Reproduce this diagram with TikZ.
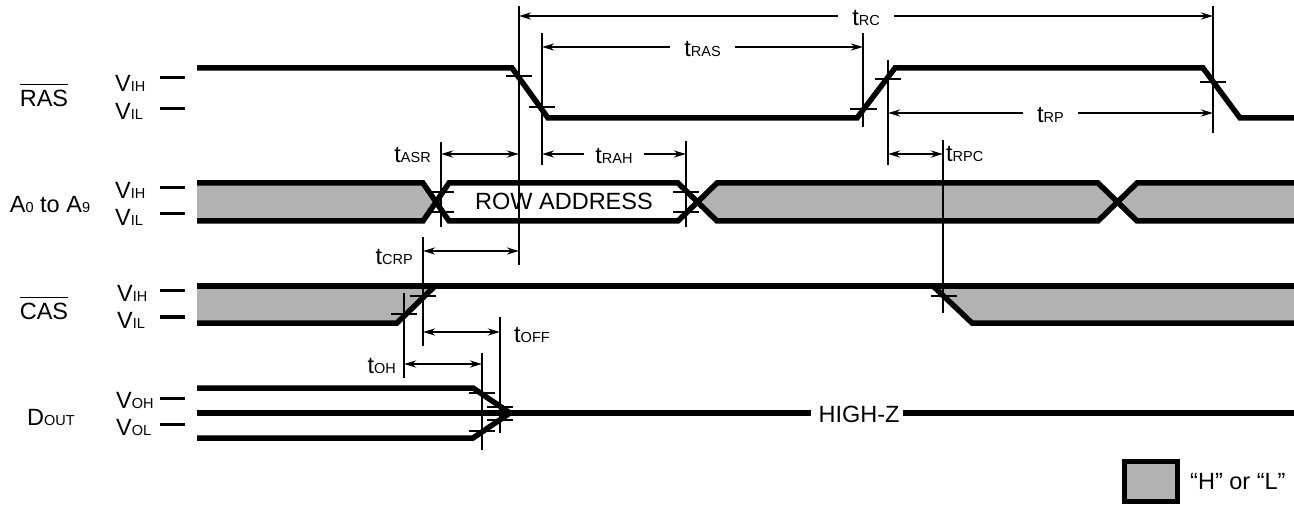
\documentclass[tikz,border=0pt]{standalone}
\usepackage{fontspec}
\setmainfont{Liberation Sans}
\usetikzlibrary{arrows.meta,calc}
\definecolor{busgrey}{gray}{0.7}
\newcommand\bigf{\fontsize{23.5}{25}\selectfont}
\newcommand\smf{\fontsize{14.5}{16}\selectfont}
\newcommand\tlab[1]{{\bigf t}{\smf #1}}
\newcommand\vlab[1]{{\bigf V}{\smf #1}}
\begin{document}
\begin{tikzpicture}[x=1pt,y=-1pt,
  sig/.style={line width=5.5pt, line join=miter},
  vl/.style={line width=2.2pt},
  tk/.style={line width=2.5pt},
  lvl/.style={line width=3pt},
  ovl/.style={line width=1.6pt},
  dimarrow/.style={line width=2.2pt, {Stealth[length=12pt,width=7pt]}-{Stealth[length=12pt,width=7pt]}},
  txt/.style={inner sep=0pt, font=\bigf},
  lbl/.style={fill=white, inner xsep=14pt, inner ysep=2pt, yshift=-1.5pt},
]
\useasboundingbox (0,0) rectangle (1294,505);

% ---------- left labels ----------
\node[txt] (ras) at (44,98) {RAS};
\draw[ovl] ($(ras.north west)+(0,-5)$) -- ($(ras.north east)+(0,-5)$);
\node[txt] (addr) at (50,205) {A{\smf 0} to A{\smf 9}};
\node[txt] (cas) at (44,311) {CAS};
\draw[ovl] ($(cas.north west)+(0,-5)$) -- ($(cas.north east)+(0,-5)$);
\node[txt] (dout) at (51,417) {D{\smf OUT}};

\node[txt,anchor=west] (rvih) at (115,83) {\vlab{IH}};
\node[txt,anchor=west] (rvil) at (115,111) {\vlab{IL}};
\node[txt,anchor=west] (avih) at (115,190) {\vlab{IH}};
\node[txt,anchor=west] (avil) at (115,217) {\vlab{IL}};
\node[txt,anchor=west] (cvih) at (117,293) {\vlab{IH}};
\node[txt,anchor=west] (cvil) at (117,320) {\vlab{IL}};
\node[txt,anchor=west] (dvoh) at (116,400) {\vlab{OH}};
\node[txt,anchor=west] (dvol) at (116,427) {\vlab{OL}};

\foreach \yy in {78,109,188,214,291,317,398,424}
  \draw[lvl] (160,\yy) -- (185,\yy);

% ---------- RAS ----------
\draw[sig] (197,68) -- (512,68) -- (548,118) -- (857,118) -- (895,68) -- (1203,68) -- (1240,118) -- (1294,118);
\draw[tk] (506,76) -- (532,76);
\draw[tk] (529,107) -- (555,107);
\draw[tk] (850,109) -- (877,109);
\draw[tk] (875,79) -- (901,79);
\draw[tk] (1200,82) -- (1226,82);

% ---------- address bus ----------
\fill[busgrey] (197,183) -- (423,183) -- (436,202) -- (423,221) -- (197,221) -- cycle;
\draw[sig] (197,183) -- (423,183) -- (436,202) -- (423,221) -- (197,221);
\draw[sig] (449,183) -- (436,202) -- (449,221) -- (678,221) -- (697.5,202) -- (678,183) -- cycle;
\filldraw[sig, fill=busgrey] (717,183) -- (697.5,202) -- (717,221) -- (1098,221) -- (1117.5,202) -- (1098,183) -- cycle;
\fill[busgrey] (1137,183) -- (1117.5,202) -- (1137,221) -- (1294,221) -- (1294,183) -- cycle;
\draw[sig] (1294,183) -- (1137,183) -- (1117.5,202) -- (1137,221) -- (1294,221);
\node[txt] (rowaddr) at (564,201) {ROW ADDRESS};
\draw[tk] (428,192) -- (454,192);
\draw[tk] (428,212) -- (454,212);
\draw[tk] (673,192) -- (699,192);
\draw[tk] (673,212) -- (699,212);

% ---------- CAS ----------
\fill[busgrey] (197,286) -- (435,286) -- (397,323) -- (197,323) -- cycle;
\fill[busgrey] (933,286) -- (972,323) -- (1294,323) -- (1294,286) -- cycle;
\draw[sig] (197,286) -- (1294,286);
\draw[sig] (197,323) -- (397,323) -- (435,286);
\draw[sig] (933,286) -- (972,323) -- (1294,323);
\draw[tk] (410,296) -- (436,296);
\draw[tk] (391,314) -- (417,314);
\draw[tk] (931,296) -- (957,296);

% ---------- DOUT ----------
\draw[sig] (197,388) -- (473,388) -- (510,413);
\draw[sig] (197,438) -- (473,438) -- (510,413);
\node[txt] (highz) at (859,414) {HIGH-Z};
\draw[sig] (197,413) -- (811,413);
\draw[sig] (903,413) -- (1294,413);
\draw[tk] (469,393) -- (495,393);
\draw[tk] (487,407) -- (513,407);
\draw[tk] (487,420) -- (513,420);
\draw[tk] (469,431) -- (495,431);

% ---------- reference verticals ----------
\coordinate (a519t) at (519,6);   \coordinate (a519b) at (519,265);
\coordinate (a542t) at (542,33);  \coordinate (a542b) at (542,165);
\coordinate (a863t) at (863,33);  \coordinate (a863b) at (863,127);
\coordinate (a888t) at (888,60);  \coordinate (a888b) at (888,165);
\coordinate (a1213t) at (1213,6); \coordinate (a1213b) at (1213,133);
\coordinate (a441t) at (441,142); \coordinate (a441b) at (441,227);
\coordinate (a686t) at (686,141); \coordinate (a686b) at (686,227);
\coordinate (a943t) at (943,140); \coordinate (a943b) at (943,313);
\coordinate (a423t) at (423,237); \coordinate (a423b) at (423,346);
\coordinate (a404t) at (404,293); \coordinate (a404b) at (404,378);
\coordinate (a500t) at (500,317); \coordinate (a500b) at (500,433);
\coordinate (a482t) at (482,353); \coordinate (a482b) at (482,450);
\foreach \v in {519,542,863,888,1213,441,686,943,423,404,500,482}
  \draw[vl] (a\v t) -- (a\v b);

% ---------- dimension arrows ----------
\draw[dimarrow] (519,16) -- (1213,16) node[midway, lbl] (trc) {\tlab{RC}};
\draw[dimarrow] (542,47) -- (863,47) node[midway, lbl] (tras) {\tlab{RAS}};
\draw[dimarrow] (888,113) -- (1213,113) node[midway, lbl] (trp) {\tlab{RP}};
\draw[dimarrow] (542,154) -- (686,154) node[midway, lbl, inner xsep=11pt] (trah) {\tlab{RAH}};
\draw[dimarrow] (441,154) -- (519,154);
\node[txt, anchor=east] (tasr) at (431,155) {\tlab{ASR}};
\draw[dimarrow] (888,154) -- (943,154);
\node[txt, anchor=west] (trpc) at (946,154) {\tlab{RPC}};
\draw[dimarrow] (423,251) -- (519,251);
\node[txt, anchor=east] (tcrp) at (413,257) {\tlab{CRP}};
\draw[dimarrow] (423,332) -- (500,332);
\node[txt, anchor=west] (toff) at (514,335) {\tlab{OFF}};
\draw[dimarrow] (404,364) -- (482,364);
\node[txt, anchor=east] (toh) at (396,366) {\tlab{OH}};

% ---------- legend ----------
\filldraw[line width=5pt, fill=busgrey] (1124.5,461.5) rectangle (1177.5,501.5);
\node[txt, anchor=west] (legend) at (1190,482) {“H” or “L”};
\end{tikzpicture}
\end{document}
